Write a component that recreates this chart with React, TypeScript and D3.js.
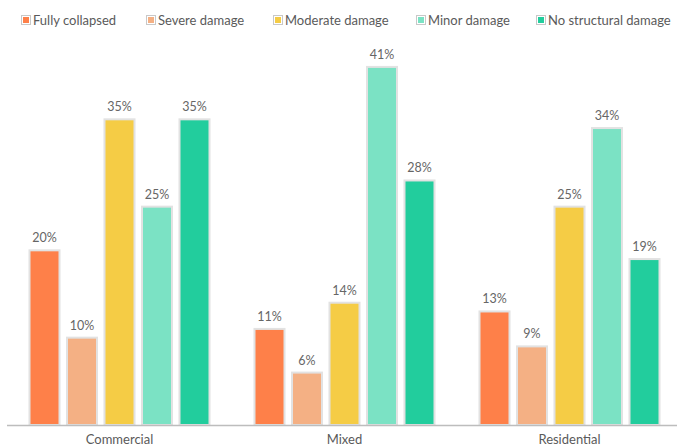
import React from "react";
import * as d3 from "d3";

const categories = ["Commercial", "Mixed", "Residential"];
const seriesNames = ["Fully collapsed", "Severe damage", "Moderate damage", "Minor damage", "No structural damage"];
const fullyCollapsed = [20, 11, 13];
const severeDamage = [10, 6, 9];
const moderateDamage = [35, 14, 25];
const minorDamage = [25, 41, 34];
const noStructuralDamage = [35, 28, 19];
const seriesValues = [fullyCollapsed, severeDamage, moderateDamage, minorDamage, noStructuralDamage];
const colors = ["#fe8049", "#f4b084", "#f5cc45", "#7be2c4", "#22cd9d"];
const legendX = [21, 146, 273, 416, 536];

const W = 677;
const H = 446;
const FONT = "Lato, 'Open Sans', sans-serif";

export default function App() {
  const x0 = d3.scaleBand<string>().domain(categories).range([7, 682]).paddingInner(0.2).paddingOuter(0.1);
  const x1 = d3.scaleBand<string>().domain(seriesNames).range([0, x0.bandwidth()]).paddingInner(0.2);
  const y = d3.scaleLinear().domain([0, 45]).range([425, 32]);

  return (
    <svg width={W} height={H} style={{ position: "absolute", left: 0, top: 0, background: "#fff" }}>
      {/* legend */}
      {seriesNames.map((s, i) => (
        <g key={s} transform={`translate(${legendX[i]},15)`}>
          <rect x={0.5} y={0.5} width={9} height={9} fill="#fff" stroke="#c8c8c8" strokeWidth={1} />
          <rect x={2} y={2} width={6} height={6} fill={colors[i]} />
          <text x={12} y={10} fontFamily={FONT} fontSize={13} fill="#5a5a5a">{s}</text>
        </g>
      ))}
      {/* bars */}
      {categories.map((c, ci) => (
        <g key={c} transform={`translate(${x0(c)},0)`}>
          {seriesNames.map((s, si) => {
            const v = seriesValues[si][ci];
            const bx = x1(s)!;
            const bw = x1.bandwidth();
            return (
              <g key={s}>
                <rect x={bx} y={y(v)} width={bw} height={y(0) - y(v)} fill={colors[si]} stroke="#e2e2e2" strokeWidth={2} />
                <text x={bx + bw / 2} y={y(v) - 8} textAnchor="middle" fontFamily={FONT} fontSize={12.5} fill="#666">{v}%</text>
              </g>
            );
          })}
          <text x={x0.bandwidth() / 2} y={444} textAnchor="middle" fontFamily={FONT} fontSize={13} fill="#5a5a5a">{c}</text>
        </g>
      ))}
      <line x1={7} x2={677} y1={425.5} y2={425.5} stroke="#bdbdbd" strokeWidth={1.5} />
    </svg>
  );
}
